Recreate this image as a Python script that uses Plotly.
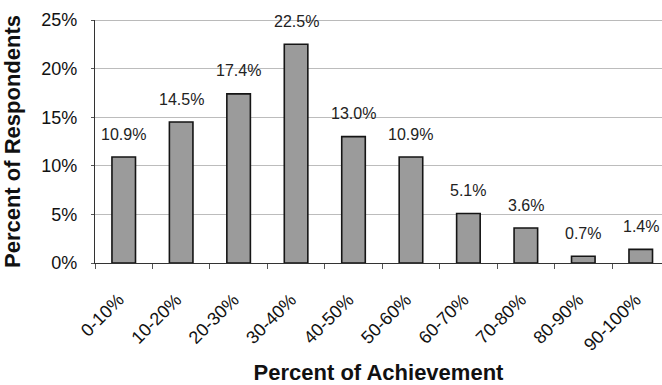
import plotly.graph_objects as go

categories = ["0-10%", "10-20%", "20-30%", "30-40%", "40-50%",
              "50-60%", "60-70%", "70-80%", "80-90%", "90-100%"]
values = [10.9, 14.5, 17.4, 22.5, 13.0, 10.9, 5.1, 3.6, 0.7, 1.4]
labels = ["10.9%", "14.5%", "17.4%", "22.5%", "13.0%",
          "10.9%", "5.1%", "3.6%", "0.7%", "1.4%"]
yticks = [0, 5, 10, 15, 20, 25]
yticklabels = ["0%", "5%", "10%", "15%", "20%", "25%"]

font = "Liberation Sans, Arial, sans-serif"

fig = go.Figure()
fig.add_trace(go.Bar(
    x=categories, y=values, width=0.41,
    marker=dict(color="#9b9b9b", line=dict(color="#151515", width=1.6)),
))

for c, v, t in zip(categories, values, labels):
    fig.add_annotation(x=c, y=v, text=t, showarrow=False, yshift=23,
                       font=dict(family=font, size=16, color="#222"))

fig.update_layout(
    width=662, height=385,
    margin=dict(l=95, r=0, t=20, b=122),
    paper_bgcolor="white", plot_bgcolor="white",
    showlegend=False,
    font=dict(family=font, color="#111"),
    xaxis=dict(
        type="category", range=[-0.5, 9.37],
        tickangle=-45, tickson="boundaries", ticks="outside", ticklen=5,
        tickcolor="#555", showline=True, linecolor="#333", linewidth=1.2,
        ticklabelstandoff=18, ticklabelshift=-5,
        tickfont=dict(family=font, size=18, color="#111"),
        title=dict(text="<b>Percent of Achievement</b>", standoff=14,
                   font=dict(family=font, size=22, color="#111")),
        showgrid=False,
    ),
    yaxis=dict(
        range=[0, 25], tickvals=yticks, ticktext=yticklabels,
        showgrid=True, gridcolor="#bcbcbc", gridwidth=1,
        showline=True, linecolor="#333", linewidth=1.2,
        ticks="outside", ticklen=3, tickcolor="#555",
        ticklabelstandoff=10,
        tickfont=dict(family=font, size=18, color="#111"),
        title=dict(text="<b>Percent of Respondents</b>", standoff=14,
                   font=dict(family=font, size=22, color="#111")),
        zeroline=False,
    ),
)
fig.add_shape(type="line", xref="paper", yref="y", x0=0, x1=1, y0=25, y1=25,
              line=dict(color="#777", width=1))

fig.write_html("out.html")
